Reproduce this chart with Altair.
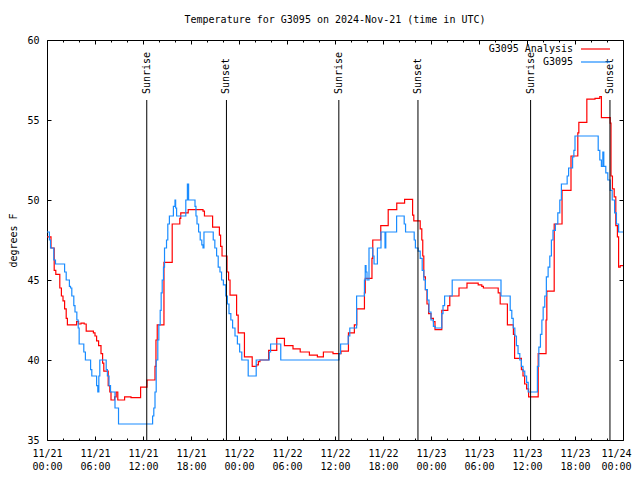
import altair as alt
import pandas as pd

# ---------------- data ----------------
# hours since 2024-11-21 00:00 UTC
obs_hours = [0.0, 0.3, 0.44, 0.85, 1.06, 2.2, 2.4, 2.8, 2.94, 3.1, 3.35, 3.5, 3.73, 3.9, 4.02,
             4.6, 4.8, 5.45, 5.6, 6.2, 6.35, 6.48, 6.6, 7.4, 7.55, 7.75, 7.94, 8.5, 8.94,
             13.2, 13.35, 13.5, 13.65, 13.85, 13.98, 14.15, 14.27, 14.4, 14.56, 14.69, 14.94,
             15.1, 15.3, 15.8, 16.0, 16.08, 16.2, 17.35, 17.55, 17.7,
             18.5, 18.62, 18.75, 18.95, 19.15, 19.35, 19.5, 19.62, 20.78, 20.98, 21.2, 21.4,
             21.62, 21.82, 22.05, 22.35, 22.55, 22.75, 22.98, 23.2, 23.5, 23.8, 24.08, 24.35,
             25.15, 26.15, 27.78, 27.95, 29.22, 36.5, 36.7, 37.65, 37.85, 38.7, 39.68, 39.78,
             39.88, 40.0, 40.25, 40.72, 40.88, 41.3, 41.75, 42.25, 42.35, 43.7, 44.65, 44.82,
             45.9, 46.05, 46.4, 46.65, 46.9, 47.1, 47.3, 47.55, 47.75, 48.0, 48.3, 48.55, 49.35,
             49.5, 49.7, 50.65, 56.75, 57.9, 58.1, 58.28, 58.48, 58.68, 58.88, 59.1, 59.3, 59.5,
             59.72, 59.95, 60.15, 61.3, 61.48, 61.68, 61.86, 62.02, 62.22, 62.42, 62.64, 62.85,
             63.05, 63.25, 63.55, 63.85, 64.1, 64.3, 65.02, 65.2, 65.7, 65.86, 66.0, 68.9, 69.1,
             69.3, 69.48, 69.6, 69.85, 70.1, 70.4, 70.65, 70.95, 71.18, 71.45, 72.0]
obs_temps = [48.0, 47.5, 47.0, 46.25, 46.0, 45.5, 45.0, 44.6, 44.5, 44.0, 43.4, 43.0, 42.5, 42.0, 41.0,
             40.5, 40.0, 39.4, 39.0, 38.4, 38.0, 39.0, 40.0, 39.4, 39.0, 38.4, 38.0, 37.0, 36.0,
             36.5, 37.0, 38.0, 40.0, 41.25, 42.2, 43.1, 44.2, 45.0, 45.8, 47.0, 47.5,
             48.5, 49.0, 49.6, 50.0, 49.5, 49.0, 50.0, 51.0, 50.0,
             49.6, 49.0, 48.5, 48.0, 47.5, 47.2, 47.0, 48.0, 47.5, 47.0, 46.5, 45.8,
             45.5, 45.0, 44.7, 44.0, 43.5, 42.9, 42.5, 42.0, 41.5, 41.0, 40.5, 40.0,
             39.0, 40.0, 40.5, 41.0, 40.0, 40.4, 41.0, 41.5, 42.0, 44.0, 45.0, 45.9,
             45.5, 45.0, 47.0, 46.5, 46.0, 47.0, 48.0, 47.0, 48.0, 49.0, 48.5, 48.0,
             47.5, 47.0, 46.8, 46.35, 45.6, 45.0, 44.4, 43.75, 43.0, 42.5, 42.1, 42.0, 42.9,
             43.4, 44.0, 45.0, 44.0, 43.1, 42.6, 42.0, 41.5, 40.9, 40.4, 40.0, 39.6, 39.3,
             39.0, 38.6, 38.0, 39.6, 40.8, 41.6, 42.5, 43.3, 44.0, 45.2, 45.8, 46.5,
             47.5, 48.1, 48.5, 49.2, 50.0, 51.0, 51.5, 52.0, 52.7, 53.1, 54.0, 53.1, 52.5,
             52.1, 53.0, 52.1, 51.7, 51.25, 50.6, 50.0, 49.2, 48.5, 48.0, 48.0]

ana_hours = [0.0, 0.5, 0.9, 1.1, 1.6, 1.8, 2.0, 2.2, 2.4, 2.55, 3.7, 3.95, 4.25, 4.65, 4.9, 5.8,
             6.0, 6.2, 6.45, 6.75, 6.95, 7.1, 7.65, 7.85, 8.0, 8.45, 8.65, 8.85, 9.7, 10.5, 11.7,
             12.5, 13.5, 13.62, 13.78, 14.62, 15.65, 16.6, 16.72, 17.65, 19.5, 19.68, 20.7, 21.55,
             21.7, 21.88, 22.5, 22.7, 22.88, 23.7, 23.9, 24.68, 25.65, 26.2, 26.42, 26.62, 27.7,
             28.72, 29.68, 30.75, 31.65, 32.8, 33.8, 34.55, 35.75, 36.75, 37.68, 38.42, 38.72,
             39.68, 39.78, 40.62, 40.72, 41.72, 42.65, 43.72, 44.7, 45.7, 45.85, 46.65, 46.85,
             46.97, 47.1, 47.3, 47.5, 47.7, 48.0, 48.3, 48.5, 49.35, 50.1, 50.35, 51.5, 52.5,
             53.9, 54.35, 54.55, 56.4, 56.65, 57.55, 58.3, 58.45, 59.3, 59.5, 59.7, 59.95, 60.2,
             61.4, 62.38, 62.48, 63.4, 64.38, 65.5, 66.35, 66.48, 67.48, 68.5, 69.1, 69.3, 70.4,
             70.5, 70.68, 70.9, 71.1, 71.3, 71.45, 71.65, 72.0]
ana_temps = [47.7, 47.0, 45.6, 45.35, 44.5, 44.0, 43.7, 43.2, 42.6, 42.2, 42.4, 42.25, 42.3, 42.25, 41.8, 41.7,
             41.5, 41.2, 40.9, 40.4, 39.8, 39.3, 38.4, 38.0, 37.5, 37.7, 38.0, 37.5, 37.7, 37.65, 38.3,
             38.75, 39.6, 41.25, 42.2, 46.1, 48.5, 48.85, 49.2, 49.4, 49.3, 49.0, 48.3, 47.8,
             47.1, 46.5, 45.5, 45.0, 44.06, 42.8, 41.7, 40.2, 39.6, 39.7, 39.9, 40.0, 40.6,
             41.35, 40.9, 40.7, 40.5, 40.3, 40.2, 40.5, 40.4, 40.56, 41.7, 42.2, 43.2,
             44.2, 45.1, 46.35, 47.5, 48.4, 49.4, 49.8, 50.04, 49.06, 48.7, 48.2, 47.5,
             46.5, 45.2, 44.4, 43.5, 42.9, 42.6, 42.4, 41.9, 43.1, 43.4, 44.0, 44.5, 44.8,
             44.7, 44.6, 44.5, 44.2, 43.5, 42.2, 41.6, 40.1, 39.4, 39.0, 38.5, 38.2, 37.7,
             40.4, 42.5, 44.3, 48.5, 50.6, 52.75, 54.2, 54.85, 56.3, 56.35, 56.46, 55.15, 54.8,
             51.5, 50.7, 50.2, 48.4, 47.7, 45.8, 45.9, 45.9]

event_names = ["Sunrise", "Sunset", "Sunrise", "Sunset", "Sunrise", "Sunset"]
event_hours = [12.47, 22.43, 36.48, 46.37, 60.45, 70.37]

series_names = ["G3095 Analysis", "G3095"]
x_minor_ticks = list(range(0, 73, 2))
x_major_ticks = list(range(0, 73, 6))
y_ticks = [35, 40, 45, 50, 55, 60]
title_text = "Temperature for G3095 on 2024-Nov-21 (time in UTC)"

# ---------------- styling ----------------
FONT = "DejaVu Sans Mono"
RED = "#ff0000"
BLUE = "#1a8cff"
W, H = 576, 400
LW = 1.2

ana = pd.DataFrame({"h": ana_hours, "t": ana_temps})
obs = pd.DataFrame({"h": obs_hours, "t": obs_temps})
ev = pd.DataFrame({"name": event_names, "h": event_hours,
                   "lo": [35.0] * len(event_hours), "hi": [56.25] * len(event_hours)})
one = pd.DataFrame({"k": [0]})

xs = alt.Scale(domain=[0, 72], nice=False, zero=False)
ys = alt.Scale(domain=[35, 60], nice=False, zero=False)

label_expr = ("datum.value % 6 == 0 ? ['11/' + (21 + floor(datum.value / 24)), "
              "(datum.value % 24 < 10 ? '0' : '') + (datum.value % 24) + ':00'] : ''")

tick_cond = {"condition": {"test": "datum.value % 6 == 0", "value": 4}, "value": 2}
last_align = {"condition": {"test": "datum.value == 72", "value": "right"}, "value": "center"}
last_offset = {"condition": {"test": "datum.value == 72", "value": 8}, "value": 0}

# axis with labels (bottom), no ticks
x_lab_axis = alt.Axis(orient="bottom", values=x_major_ticks, labelExpr=label_expr, ticks=False,
                      tickSize=0, domain=False, grid=False, labelFont=FONT, labelFontSize=10,
                      labelPadding=8, labelLineHeight=13, labelColor="black", labelFlush=False,
                      labelOverlap=False, labelAlign=last_align, labelOffset=last_offset,
                      title=None)
y_lab_axis = alt.Axis(orient="left", values=y_ticks, ticks=False, tickSize=0, domain=False,
                      grid=False, labelFont=FONT, labelFontSize=10, labelPadding=8,
                      labelColor="black", title="degrees F", titleFont=FONT, titleFontSize=10,
                      titleFontWeight="normal", titleColor="black", titlePadding=8)
# inward ticks bottom / left
x_in_bottom = alt.Axis(orient="top", offset=-H, values=x_minor_ticks, labels=False,
                       tickSize=tick_cond, tickColor="black", domain=False, grid=False, title=None)
y_in_left = alt.Axis(orient="right", offset=-W, values=y_ticks, labels=False, tickSize=4,
                     tickColor="black", domain=False, grid=False, title=None)
# inward ticks top / right
x_in_top = alt.Axis(orient="bottom", offset=-H, values=x_minor_ticks, labels=False,
                    tickSize=tick_cond, tickColor="black", domain=False, grid=False, title=None)
y_in_right = alt.Axis(orient="left", offset=-W, values=y_ticks, labels=False, tickSize=4,
                      tickColor="black", domain=False, grid=False, title=None)

red_line = alt.Chart(ana).mark_line(interpolate="step-after", color=RED, strokeWidth=LW).encode(
    x=alt.X("h:Q", scale=xs, axis=x_lab_axis),
    y=alt.Y("t:Q", scale=ys, axis=y_lab_axis),
)
blue_line = alt.Chart(obs).mark_line(interpolate="step-after", color=BLUE, strokeWidth=LW).encode(
    x=alt.X("h:Q", scale=xs, axis=x_in_bottom),
    y=alt.Y("t:Q", scale=ys, axis=y_in_left),
)
rules = alt.Chart(ev).mark_rule(color="black", strokeWidth=1).encode(
    x=alt.X("h:Q", scale=xs, axis=x_in_top),
    y=alt.Y("lo:Q", scale=ys, axis=y_in_right),
    y2="hi:Q",
)
ev_text = alt.Chart(ev).mark_text(angle=270, align="left", baseline="middle", dx=6,
                                  font=FONT, fontSize=10, color="black").encode(
    x=alt.X("h:Q", scale=xs, axis=None),
    y=alt.Y("hi:Q", scale=ys, axis=None),
    text="name:N",
)

leg_red_text = alt.Chart(one).mark_text(align="right", baseline="middle", font=FONT, fontSize=10,
                                        color="black").encode(
    x=alt.value(526), y=alt.value(9), text=alt.value(series_names[0]))
leg_red_line = alt.Chart(one).mark_rule(color=RED, strokeWidth=LW).encode(
    x=alt.value(534), x2=alt.value(563), y=alt.value(9))
leg_blue_text = alt.Chart(one).mark_text(align="right", baseline="middle", font=FONT, fontSize=10,
                                         color="black").encode(
    x=alt.value(526), y=alt.value(22), text=alt.value(series_names[1]))
leg_blue_line = alt.Chart(one).mark_rule(color=BLUE, strokeWidth=LW).encode(
    x=alt.value(534), x2=alt.value(563), y=alt.value(22))

chart = alt.layer(
    red_line, blue_line, rules, ev_text,
    leg_red_text, leg_red_line, leg_blue_text, leg_blue_line,
).resolve_axis(x="independent", y="independent").properties(
    width=W, height=H,
    title=alt.TitleParams(title_text, font=FONT, fontSize=10, fontWeight="normal",
                          color="black", anchor="middle", offset=10),
    autosize=alt.AutoSizeParams(type="none"),
    padding={"left": 39, "top": 32, "right": 9, "bottom": 32},
    background="white",
).configure_view(stroke="black", strokeWidth=1)

chart.save("out.html", embed_options={"renderer": "svg", "actions": False})
